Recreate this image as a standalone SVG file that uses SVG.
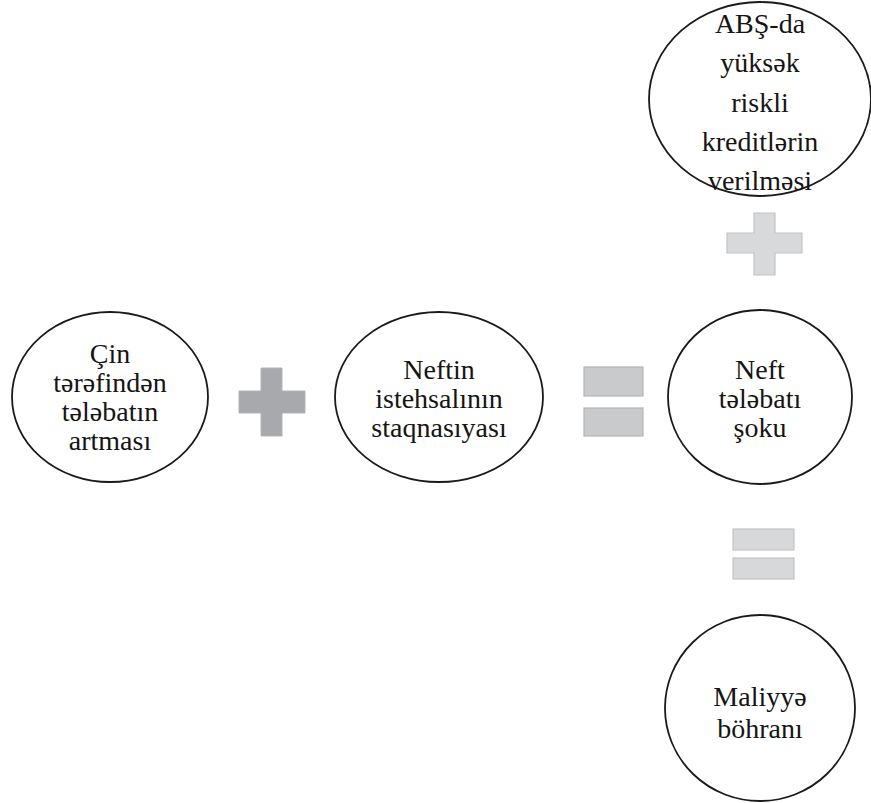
<svg xmlns="http://www.w3.org/2000/svg" width="871" height="803" viewBox="0 0 871 803">
<style>
.node{fill:#ffffff;stroke:#1a1a1a;stroke-width:1.8}
.t{font-size:28px;fill:#161414;text-anchor:middle}
.plusDark{fill:#a8a9ac;stroke:#b4b5b8;stroke-width:1}
.plusLight{fill:#d8d9db;stroke:#c2c3c5;stroke-width:1.2}
.eqMid{fill:#c9cacc;stroke:#b3b4b6;stroke-width:1.2}
.eqLight{fill:#d7d8da;stroke:#c3c4c6;stroke-width:1.2}
</style>
<rect width="871" height="803" fill="#ffffff"/>
<g id="connectors">
<path class="plusDark" d="M261,368 H282 V391 H305 V413 H282 V436 H261 V413 H239 V391 H261 Z"/>
<rect class="eqMid" x="584" y="367" width="59" height="29"/>
<rect class="eqMid" x="584" y="408" width="59" height="28"/>
<path class="plusLight" d="M754,213 H775 V233 H802 V253 H775 V275 H754 V253 H727 V233 H754 Z"/>
<rect class="eqLight" x="733" y="529" width="61" height="21"/>
<rect class="eqLight" x="733" y="558" width="61" height="21"/>
</g>
<g font-family="'Liberation Serif', 'Times New Roman', 'DejaVu Serif', serif">
<g id="node-abs">
<ellipse class="node" cx="760" cy="99" rx="111" ry="97"/>
<text class="t" x="760" y="33">ABŞ-da</text>
<text class="t" x="760" y="72">yüksək</text>
<text class="t" x="760" y="112">riskli</text>
<text class="t" x="760" y="151">kreditlərin</text>
<text class="t" x="760" y="190">verilməsi</text>
</g>
<g id="node-cin">
<ellipse class="node" cx="110" cy="397" rx="98" ry="85"/>
<text class="t" x="110" y="363">Çin</text>
<text class="t" x="110" y="392">tərəfindən</text>
<text class="t" x="110" y="421">tələbatın</text>
<text class="t" x="110" y="450">artması</text>
</g>
<g id="node-neftin">
<ellipse class="node" cx="439" cy="397" rx="104" ry="85"/>
<text class="t" x="439" y="379">Neftin</text>
<text class="t" x="439" y="408">istehsalının</text>
<text class="t" x="439" y="437">staqnasıyası</text>
</g>
<g id="node-sok">
<ellipse class="node" cx="760" cy="397" rx="92" ry="87"/>
<text class="t" x="760" y="379">Neft</text>
<text class="t" x="760" y="408">tələbatı</text>
<text class="t" x="760" y="437">şoku</text>
</g>
<g id="node-maliyye">
<ellipse class="node" cx="760" cy="708" rx="95" ry="93"/>
<text class="t" x="760" y="706">Maliyyə</text>
<text class="t" x="760" y="738">böhranı</text>
</g>
</g>
</svg>
